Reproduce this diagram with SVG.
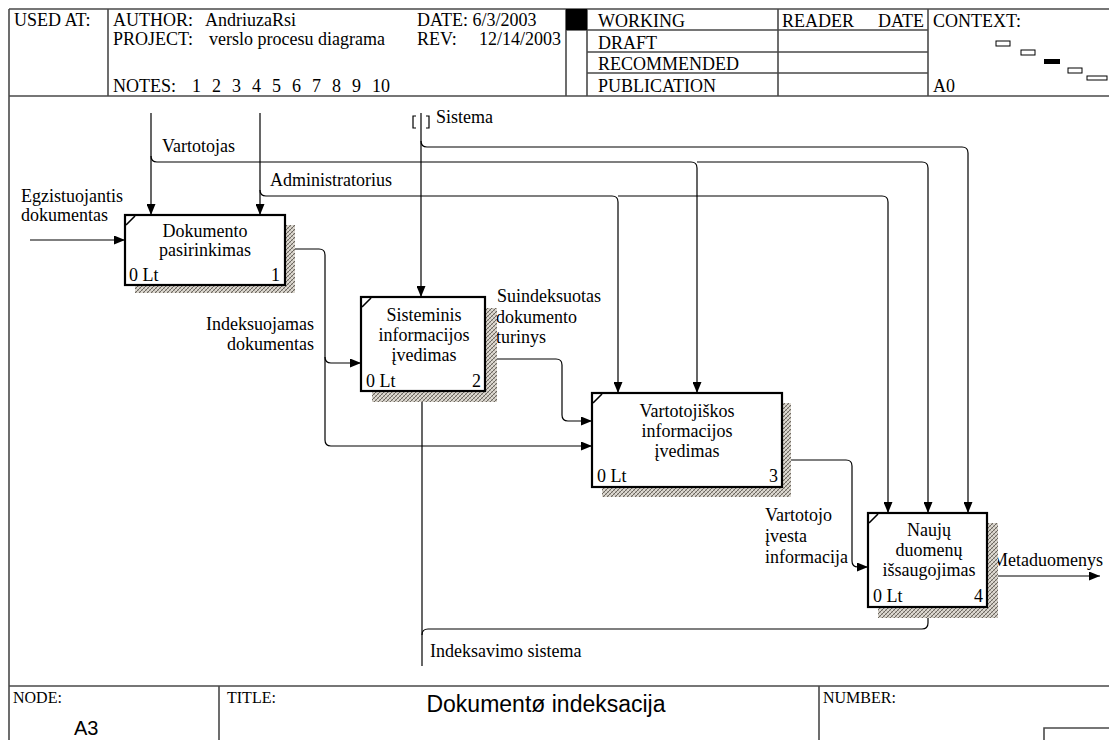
<svg xmlns="http://www.w3.org/2000/svg" width="1109" height="740" viewBox="0 0 1109 740">
  <defs>
    <style>
      .t { font-family: "Liberation Serif", "Times New Roman", serif; font-size: 18px; fill: #000; }
      .f { font-family: "Liberation Serif", "Times New Roman", serif; font-size: 16px; fill: #000; }
      .s { font-family: "Liberation Sans", Arial, sans-serif; fill: #000; }
      .c { text-anchor: middle; }
      .e { text-anchor: end; }
      .frame { fill: none; stroke: #4a4a4a; stroke-width: 1.6; }
      .ln { fill: none; stroke: #000; stroke-width: 1.2; }
      .arr { marker-end: url(#ah); }
      .box { fill: #fff; stroke: #000; stroke-width: 2.2; }
      .tick { stroke: #000; stroke-width: 1.6; }
      .shadow { fill: url(#hatch); }
      .ctx { fill: #fff; stroke: #000; stroke-width: 1; }
    </style>
    <marker id="ah" viewBox="0 0 11 9" refX="11" refY="4.5" markerWidth="11" markerHeight="9" markerUnits="userSpaceOnUse" orient="auto">
      <path d="M0,0 L11,4.5 L0,9 z" fill="#000"/>
    </marker>
    <pattern id="hatch" width="4" height="4" patternUnits="userSpaceOnUse">
      <rect width="4" height="4" fill="#dcd8d0"/>
      <path d="M0,4 L4,0 M-1,1 L1,-1 M3,5 L5,3" stroke="#6c6760" stroke-width="1"/>
      <path d="M0,0 L4,4" stroke="#a09a92" stroke-width="0.6"/>
    </pattern>
  </defs>

  <rect width="1109" height="740" fill="#fff"/>

  <!-- Title block: header -->
  <g id="header">
    <path class="frame" d="M9,9 H1109 M9,9 V740 M9,96 H1109 M108,9 V96 M566,9 V96 M587,9 V96 M778,9 V96 M928,9 V96 M566,30 H928 M587,52 H928 M587,73 H928"/>
    <rect x="566" y="9" width="21" height="21" fill="#000"/>
    <text class="t" x="14" y="26">USED AT:</text>
    <text class="t" x="113" y="26">AUTHOR:</text>
    <text class="t" x="205" y="26">AndriuzaRsi</text>
    <text class="t" x="113" y="45">PROJECT:</text>
    <text class="t" x="209" y="45">verslo procesu diagrama</text>
    <text class="t" x="113" y="92">NOTES:</text>
    <text class="t" x="192" y="92">1</text>
    <text class="t" x="212" y="92">2</text>
    <text class="t" x="232" y="92">3</text>
    <text class="t" x="252" y="92">4</text>
    <text class="t" x="272" y="92">5</text>
    <text class="t" x="292" y="92">6</text>
    <text class="t" x="312" y="92">7</text>
    <text class="t" x="332" y="92">8</text>
    <text class="t" x="352" y="92">9</text>
    <text class="t" x="372" y="92">10</text>
    <text class="t" x="417" y="26">DATE: 6/3/2003</text>
    <text class="t" x="417" y="45">REV:</text>
    <text class="t e" x="561" y="45">12/14/2003</text>
    <text class="t" x="598" y="27">WORKING</text>
    <text class="t" x="598" y="49">DRAFT</text>
    <text class="t" x="598" y="70">RECOMMENDED</text>
    <text class="t" x="598" y="92">PUBLICATION</text>
    <text class="t" x="782" y="27">READER</text>
    <text class="t e" x="924" y="27">DATE</text>
    <text class="t" x="933" y="27">CONTEXT:</text>
    <text class="t" x="933" y="92">A0</text>
    <rect class="ctx" x="996" y="41" width="14" height="5"/>
    <rect class="ctx" x="1021" y="50" width="14" height="5"/>
    <rect x="1044" y="59" width="16" height="5" fill="#000"/>
    <rect class="ctx" x="1068" y="68" width="14" height="5"/>
    <rect class="ctx" x="1087" y="76" width="20" height="4"/>
  </g>

  <!-- Title block: footer -->
  <g id="footer">
    <path class="frame" d="M9,686 H1109 M219,686 V740 M819,686 V740 M1044,740 V728 H1109"/>
    <text class="f" x="13" y="703">NODE:</text>
    <text class="s" x="74" y="735" font-size="20">A3</text>
    <text class="f" x="227" y="703">TITLE:</text>
    <text class="s c" x="546" y="712" font-size="23">Dokumentø indeksacija</text>
    <text class="f" x="823" y="703">NUMBER:</text>
  </g>

  <!-- Arrows and their labels -->
  <g id="connectors">
    <!-- Egzistuojantis dokumentas -->
    <path class="ln arr" d="M30,240 H125"/>
    <text class="t" x="21" y="202">Egzistuojantis</text>
    <text class="t" x="21" y="221">dokumentas</text>

    <!-- Vartotojas -->
    <path class="ln arr" d="M151,113 V215"/>
    <path class="ln arr" d="M151,156 Q151,162 157,162 H691 Q697,162 697,168 V393"/>
    <path class="ln arr" d="M697,162 H922 Q928,162 928,168 V513"/>
    <text class="t" x="162" y="152">Vartotojas</text>

    <!-- Administratorius -->
    <path class="ln arr" d="M260,113 V215"/>
    <path class="ln arr" d="M260,190 Q260,196 266,196 H612 Q618,196 618,202 V393"/>
    <path class="ln arr" d="M618,196 H882 Q888,196 888,202 V513"/>
    <text class="t" x="270" y="186">Administratorius</text>

    <!-- Sistema (tunnelled) -->
    <path class="ln arr" d="M421,113 V297"/>
    <path class="ln arr" d="M421,141 Q421,147 427,147 H962 Q968,147 968,153 V513"/>
    <path class="ln" d="M416,116 H413 V128 H416 M426,116 H429 V128 H426"/>
    <text class="t" x="436" y="123">Sistema</text>

    <!-- Indeksuojamas dokumentas -->
    <path class="ln arr" d="M285,249 H319 Q325,249 325,255 V440 Q325,446 331,446 H592"/>
    <path class="ln arr" d="M325,357 Q325,363 331,363 H361"/>
    <text class="t e" x="314" y="330">Indeksuojamas</text>
    <text class="t e" x="314" y="350">dokumentas</text>

    <!-- Suindeksuotas dokumento turinys -->
    <path class="ln arr" d="M485,359 H556 Q562,359 562,365 V415 Q562,421 568,421 H592"/>
    <text class="t" x="497" y="302">Suindeksuotas</text>
    <text class="t" x="496" y="323">dokumento</text>
    <text class="t" x="496" y="343">turinys</text>

    <!-- Vartotojo įvesta informacija -->
    <path class="ln arr" d="M782,460 H846 Q852,460 852,466 V561 Q852,567 858,567 H868"/>
    <text class="t" x="765" y="521">Vartotojo</text>
    <text class="t" x="765" y="542">įvesta</text>
    <text class="t" x="765" y="563">informacija</text>

    <!-- Metaduomenys -->
    <path class="ln arr" d="M987,576 H1100"/>
    <text class="t" x="992" y="566">Metaduomenys</text>

    <!-- Indeksavimo sistema -->
    <path class="ln arr" d="M422,666 V391"/>
    <path class="ln arr" d="M422,635 Q422,629 428,629 H922 Q928,629 928,623 V607"/>
    <text class="t" x="430" y="657">Indeksavimo sistema</text>
  </g>

  <!-- Activity 1 -->
  <g id="node1">
    <rect class="shadow" x="135" y="225" width="160" height="68"/>
    <rect class="box" x="125" y="215" width="160" height="70"/>
    <line class="tick" x1="126" y1="225" x2="135" y2="216"/>
    <text class="t c" x="205" y="237">Dokumento</text>
    <text class="t c" x="205" y="256">pasirinkimas</text>
    <text class="t" x="129" y="281">0 Lt</text>
    <text class="t e" x="280" y="281">1</text>
  </g>

  <!-- Activity 2 -->
  <g id="node2">
    <rect class="shadow" x="372" y="308" width="125" height="94"/>
    <rect class="box" x="361" y="297" width="124" height="94"/>
    <line class="tick" x1="362" y1="307" x2="371" y2="298"/>
    <text class="t c" x="424" y="321">Sisteminis</text>
    <text class="t c" x="424" y="341">informacijos</text>
    <text class="t c" x="424" y="361">įvedimas</text>
    <text class="t" x="366" y="387">0 Lt</text>
    <text class="t e" x="481" y="387">2</text>
  </g>

  <!-- Activity 3 -->
  <g id="node3">
    <rect class="shadow" x="602" y="403" width="189" height="94"/>
    <rect class="box" x="592" y="393" width="190" height="94"/>
    <line class="tick" x1="593" y1="403" x2="602" y2="394"/>
    <text class="t c" x="687" y="417">Vartotojiškos</text>
    <text class="t c" x="687" y="437">informacijos</text>
    <text class="t c" x="687" y="457">įvedimas</text>
    <text class="t" x="597" y="482">0 Lt</text>
    <text class="t e" x="778" y="482">3</text>
  </g>

  <!-- Activity 4 -->
  <g id="node4">
    <rect class="shadow" x="878" y="523" width="120" height="95"/>
    <rect class="box" x="868" y="513" width="119" height="94"/>
    <line class="tick" x1="869" y1="523" x2="878" y2="514"/>
    <text class="t c" x="929" y="536">Naujų</text>
    <text class="t c" x="929" y="556">duomenų</text>
    <text class="t c" x="929" y="576">išsaugojimas</text>
    <text class="t" x="873" y="602">0 Lt</text>
    <text class="t e" x="983" y="602">4</text>
  </g>
</svg>
